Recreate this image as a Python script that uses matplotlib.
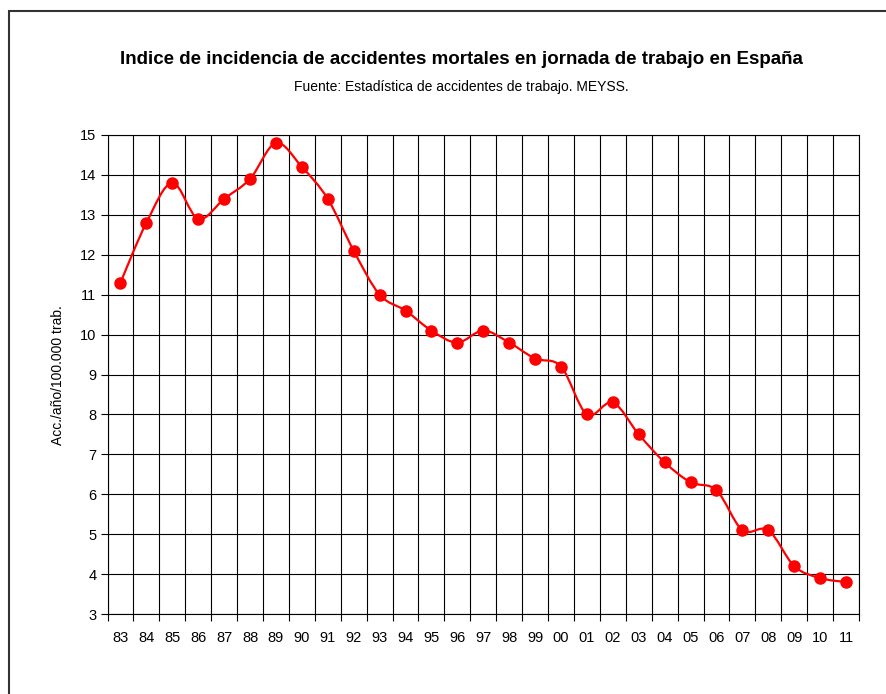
import numpy as np
import matplotlib
matplotlib.use("Agg")
import matplotlib.pyplot as plt
from matplotlib.path import Path
from matplotlib.patches import PathPatch, Rectangle

years = ["83", "84", "85", "86", "87", "88", "89", "90", "91", "92",
         "93", "94", "95", "96", "97", "98", "99", "00", "01", "02",
         "03", "04", "05", "06", "07", "08", "09", "10", "11"]
values = [11.3, 12.8, 13.8, 12.9, 13.4, 13.9, 14.8, 14.2, 13.4, 12.1,
          11.0, 10.6, 10.1, 9.8, 10.1, 9.8, 9.4, 9.2, 8.0, 8.3,
          7.5, 6.8, 6.3, 6.1, 5.1, 5.1, 4.2, 3.9, 3.8]
yticks = list(range(3, 16))

title = "Indice de incidencia de accidentes mortales en jornada de trabajo en España"
subtitle = "Fuente: Estadística de accidentes de trabajo. MEYSS."
ylabel = "Acc./año/100.000 trab."

plt.rcParams['font.family'] = ['Liberation Sans', 'DejaVu Sans']

W, H = 886, 694
fig = plt.figure(figsize=(W / 100, H / 100), dpi=100)
fig.patch.set_facecolor('white')

left, right, top, bottom = 107.5, 859, 135, 614
ax = fig.add_axes([left / W, 1 - bottom / H, (right - left) / W, (bottom - top) / H])

n = len(values)
x = np.arange(n)
ax.set_xlim(-0.5, n - 0.5)
ax.set_ylim(3, 15)

# grid
ax.set_yticks(yticks)
ax.set_xticks(x)
ax.set_xticklabels(years)
ax.set_xticks(np.arange(-0.5, n, 1.0), minor=True)
ax.grid(True, which='major', axis='y', color='black', lw=0.8)
ax.grid(True, which='minor', axis='x', color='black', lw=0.8)
ax.tick_params(axis='x', which='major', length=0, pad=12, labelsize=10.5)
ax.tick_params(axis='x', which='minor', length=5, width=0.8, direction='out')
ax.tick_params(axis='y', which='major', length=5, width=0.8, direction='out', pad=3, labelsize=10.5)
for s in ax.spines.values():
    s.set_linewidth(0.8)
    s.set_color('black')
ax.set_axisbelow(True)

# smoothed line (Catmull-Rom -> cubic Bezier)
pts = np.column_stack([x, values]).astype(float)
verts = [tuple(pts[0])]
codes = [Path.MOVETO]
for i in range(n - 1):
    p0 = pts[i - 1] if i > 0 else pts[i]
    p1 = pts[i]
    p2 = pts[i + 1]
    p3 = pts[i + 2] if i + 2 < n else pts[i + 1]
    c1 = p1 + (p2 - p0) / 6.0
    c2 = p2 - (p3 - p1) / 6.0
    verts += [tuple(c1), tuple(c2), tuple(p2)]
    codes += [Path.CURVE4] * 3
ax.add_patch(PathPatch(Path(verts, codes), fill=False, edgecolor='#ff0000', lw=1.6, zorder=3))
ax.plot(x, values, linestyle='none', marker='o', markersize=8, color='#ff0000', zorder=4)

fig.text(58 / W, 1 - 375 / H, ylabel, rotation=90, ha='center', va='center', fontsize=10)
fig.text(461 / W, 1 - 59 / H, title, ha='center', va='center', fontsize=13.5, fontweight='bold')
fig.text(461 / W, 1 - 87 / H, subtitle, ha='center', va='center', fontsize=10)

fig.patches.append(Rectangle((9 / W, -0.1), 1.2, 1.1 - 11 / H, transform=fig.transFigure,
                             fill=False, edgecolor='#333333', lw=1.5))

fig.savefig('out.png', dpi=100)
